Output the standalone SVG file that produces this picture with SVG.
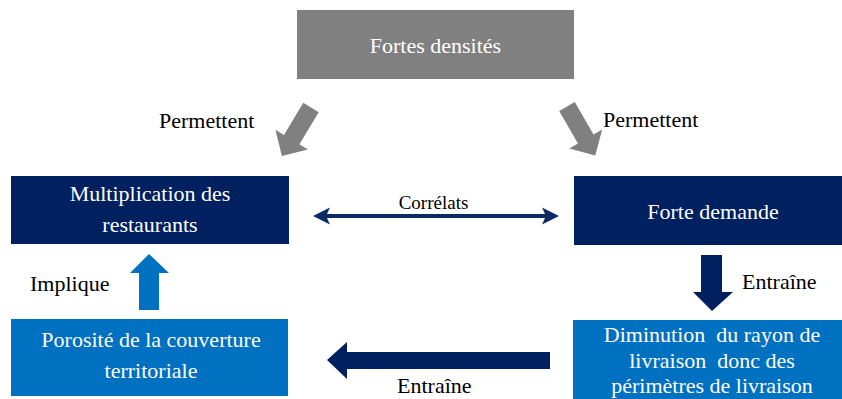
<svg xmlns="http://www.w3.org/2000/svg" width="842" height="399" viewBox="0 0 842 399">
  <style>
    .t { font-family: "Liberation Serif", "Times New Roman", serif; font-size: 22px; text-anchor: middle; fill: #ffffff; }
    .lbl { font-family: "Liberation Serif", "Times New Roman", serif; font-size: 22px; fill: #000000; }
    .gray { fill: #808080; }
    .navy { fill: #002060; }
    .blue { fill: #0070C0; }
  </style>
  <rect width="842" height="399" fill="#ffffff"/>

  <g id="fortes-densites">
    <rect class="gray" x="297" y="10" width="277" height="69"/>
    <text class="t" x="435.5" y="53">Fortes densités</text>
  </g>

  <g id="multiplication">
    <rect class="navy" x="11" y="176" width="278" height="68"/>
    <text class="t" x="150" y="201">Multiplication des</text>
    <text class="t" x="150" y="232">restaurants</text>
  </g>

  <g id="forte-demande">
    <rect class="navy" x="574" y="176" width="268" height="69"/>
    <text class="t" x="713" y="219">Forte demande</text>
  </g>

  <g id="porosite">
    <rect class="blue" x="11" y="319" width="277" height="77"/>
    <text class="t" x="151" y="347">Porosité de la couverture</text>
    <text class="t" x="151" y="378">territoriale</text>
  </g>

  <g id="diminution">
    <rect class="blue" x="573" y="320" width="269" height="79"/>
    <text class="t" x="712" y="342" xml:space="preserve">Diminution  du rayon de</text>
    <text class="t" x="712" y="367.5" xml:space="preserve">livraison  donc des</text>
    <text class="t" x="712" y="393">périmètres de livraison</text>
  </g>

  <g id="connectors">
    <polygon class="gray" points="0,-9 37.5,-9 37.5,-19 56.5,0 37.5,19 37.5,9 0,9" transform="translate(311,107.5) rotate(121)"/>
    <polygon class="gray" points="0,-9 37.5,-9 37.5,-19 56.5,0 37.5,19 37.5,9 0,9" transform="translate(567,106.5) rotate(60)"/>
    <polygon fill="#0d2a63" points="313,216 330,207.5 327,214 545,214 542,207.5 559,216 542,224.5 545,218 327,218 330,224.5"/>
    <polygon class="blue" points="139,310 139,273 130,273 149,254 169,273 159,273 159,310"/>
    <polygon class="navy" points="701,255 722,255 722,292 733,292 712,311 693,292 701,292"/>
    <polygon class="navy" points="550,352 550,369 347,369 347,379 327,360 347,342 347,352"/>
    <text class="lbl" x="159" y="128">Permettent</text>
    <text class="lbl" x="603" y="127">Permettent</text>
    <text class="lbl" x="433.5" y="209" text-anchor="middle" style="font-size:19px">Corrélats</text>
    <text class="lbl" x="30" y="291">Implique</text>
    <text class="lbl" x="742" y="289">Entraîne</text>
    <text class="lbl" x="397" y="393">Entraîne</text>
  </g>
</svg>
